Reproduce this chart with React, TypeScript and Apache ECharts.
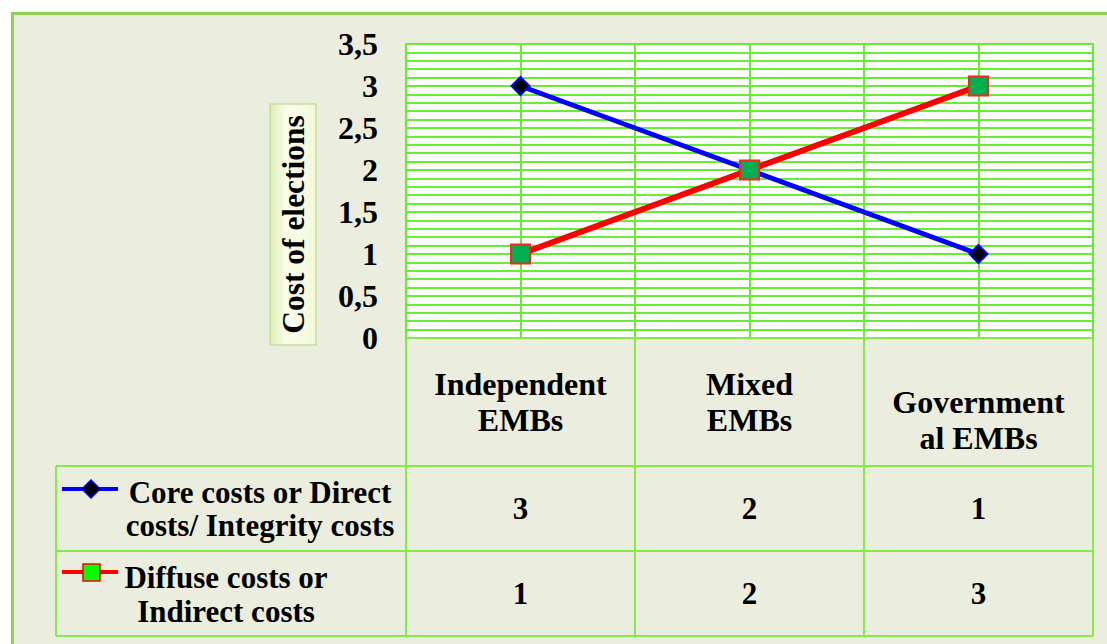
import React, { useEffect, useRef } from 'react';
import * as echarts from 'echarts';

const categories = ['Independent\nEMBs', 'Mixed\nEMBs', 'Government\nal EMBs'];
const seriesNames = ['Core costs or Direct\ncosts/ Integrity costs', 'Diffuse costs or\nIndirect costs'];
const coreCosts = [3, 2, 1];
const diffuseCosts = [1, 2, 3];
const yMin = 0;
const yMax = 3.5;
const yInterval = 0.5;
const yAxisTitle = 'Cost of elections';

const FONT = "'Liberation Serif', 'Times New Roman', serif";
const GRID = '#66ee33';
const TABLE = '#86ea4a';
const BG = '#ebeede';

export default function App() {
  const ref = useRef<HTMLDivElement>(null);
  useEffect(() => {
    if (!ref.current) return;
    const chart = echarts.init(ref.current, null, { renderer: 'svg' });
    const option: any = {
      animation: false,
      grid: { left: 406, top: 44, width: 687, height: 294, show: true, backgroundColor: '#ffffff', borderColor: GRID, borderWidth: 2 },
      xAxis: [
        {
          type: 'category',
          data: categories.map((c, i) => (i === 2 ? { value: c, textStyle: { padding: [18, 0, 0, 0] } } : c)),
          boundaryGap: true,
          axisLine: { show: false },
          axisTick: { show: false },
          splitLine: { show: false },
          axisLabel: { margin: 28, fontFamily: FONT, fontWeight: 'bold', fontSize: 32, lineHeight: 36, color: '#000' },
        },
        {
          type: 'value', min: 0, max: 3, interval: 0.5, position: 'bottom',
          axisLine: { show: false }, axisTick: { show: false }, axisLabel: { show: false },
          splitLine: { show: true, lineStyle: { color: GRID, width: 2 } },
        },
      ],
      yAxis: {
        type: 'value', min: yMin, max: yMax, interval: yInterval,
        axisLine: { show: false }, axisTick: { show: false },
        axisLabel: {
          margin: 28, fontFamily: FONT, fontWeight: 'bold', fontSize: 32, color: '#000',
          formatter: (v: number) => String(v).replace('.', ','),
        },
        splitLine: { show: true, lineStyle: { color: GRID, width: 2 } },
        minorTick: { show: false, splitNumber: 5 },
        minorSplitLine: { show: true, lineStyle: { color: GRID, width: 2 } },
      },
      series: [
        {
          type: 'line', name: seriesNames[0], data: coreCosts, xAxisIndex: 0, yAxisIndex: 0,
          symbol: 'diamond', symbolSize: 18,
          lineStyle: { color: '#0000ff', width: 5 },
          itemStyle: { color: '#000000', borderColor: '#0000ff', borderWidth: 2 },
        },
        {
          type: 'line', name: seriesNames[1], data: diffuseCosts, xAxisIndex: 0, yAxisIndex: 0,
          symbol: 'rect', symbolSize: 19,
          lineStyle: { color: '#ff0000', width: 6 },
          itemStyle: { color: '#00b050', borderColor: '#ff2020', borderWidth: 2 },
        },
      ],
    };
    chart.setOption(option);

    const px = (i: number) => chart.convertToPixel({ xAxisIndex: 0 }, i) as number;
    const bx = (v: number) => chart.convertToPixel({ xAxisIndex: 1 }, v) as number;
    const py = (v: number) => chart.convertToPixel({ yAxisIndex: 0 }, v) as number;

    const top = py(yMin);
    const headerBottom = 466;
    const row1Bottom = 551;
    const row2Bottom = 636;
    const tableLeft = 56;
    const left = bx(0);
    const right = bx(3);
    const lineStyle = { stroke: TABLE, lineWidth: 2 };
    const textFont = `bold 31px ${FONT}`;

    const g: any[] = [];
    // y-axis title box
    g.push({
      type: 'rect', shape: { x: 270, y: 104, width: 46, height: 241 },
      style: {
        fill: new echarts.graphic.LinearGradient(0, 0, 1, 0, [
          { offset: 0, color: '#dcedb4' }, { offset: 0.35, color: '#fbfdeb' }, { offset: 1, color: '#f3f8d8' },
        ]),
        stroke: '#c2df98', lineWidth: 1.5,
      },
    });
    g.push({
      type: 'text', x: 293, y: 224.5, rotation: Math.PI / 2,
      style: { text: yAxisTitle, font: `bold 31.5px ${FONT}`, fill: '#000', align: 'center', verticalAlign: 'middle' },
    });
    // table frame
    g.push({ type: 'line', shape: { x1: left, y1: top, x2: right, y2: top }, style: lineStyle });
    g.push({ type: 'line', shape: { x1: tableLeft, y1: headerBottom, x2: right, y2: headerBottom }, style: lineStyle });
    g.push({ type: 'line', shape: { x1: tableLeft, y1: row1Bottom, x2: right, y2: row1Bottom }, style: lineStyle });
    g.push({ type: 'line', shape: { x1: tableLeft, y1: row2Bottom, x2: right, y2: row2Bottom }, style: lineStyle });
    g.push({ type: 'line', shape: { x1: tableLeft, y1: headerBottom, x2: tableLeft, y2: row2Bottom }, style: lineStyle });
    [0, 1, 2, 3].forEach((b) => {
      const x = bx(b);
      g.push({ type: 'line', shape: { x1: x, y1: top, x2: x, y2: row2Bottom }, style: lineStyle });
    });
    // table values
    const rows = [coreCosts, diffuseCosts];
    const rowCenters = [(headerBottom + row1Bottom) / 2, (row1Bottom + row2Bottom) / 2];
    rows.forEach((vals, r) => {
      vals.forEach((v, i) => {
        g.push({
          type: 'text', x: px(i), y: rowCenters[r],
          style: { text: String(v), font: textFont, fill: '#000', align: 'center', verticalAlign: 'middle' },
        });
      });
    });
    // legend keys
    g.push({ type: 'line', shape: { x1: 62, y1: 489, x2: 118, y2: 489 }, style: { stroke: '#0000ff', lineWidth: 4 } });
    g.push({ type: 'polygon', shape: { points: [[91, 480], [100, 489], [91, 498], [82, 489]] }, style: { fill: '#000', stroke: '#0000ff', lineWidth: 1.5 } });
    g.push({
      type: 'text', x: 260, y: 509,
      style: { text: seriesNames[0], font: textFont, lineHeight: 33, fill: '#000', align: 'center', verticalAlign: 'middle' },
    });
    g.push({ type: 'line', shape: { x1: 62, y1: 572, x2: 118, y2: 572 }, style: { stroke: '#ff0000', lineWidth: 4 } });
    g.push({ type: 'rect', shape: { x: 83, y: 564, width: 17, height: 17 }, style: { fill: '#00ff00', stroke: '#ff0000', lineWidth: 1.5 } });
    g.push({
      type: 'text', x: 226, y: 594,
      style: { text: seriesNames[1], font: textFont, lineHeight: 34, fill: '#000', align: 'center', verticalAlign: 'middle' },
    });
    chart.setOption({ graphic: g });

    return () => chart.dispose();
  }, []);

  return (
    <div style={{ position: 'fixed', left: 0, top: 0, width: 1107, height: 644, background: '#ffffff', overflow: 'hidden' }}>
      <div style={{ position: 'absolute', left: 11, top: 12, width: 1200, height: 800, background: BG, border: '3px solid #92d050' }} />
      <div ref={ref} style={{ position: 'absolute', left: 0, top: 0, width: 1107, height: 644 }} />
    </div>
  );
}
